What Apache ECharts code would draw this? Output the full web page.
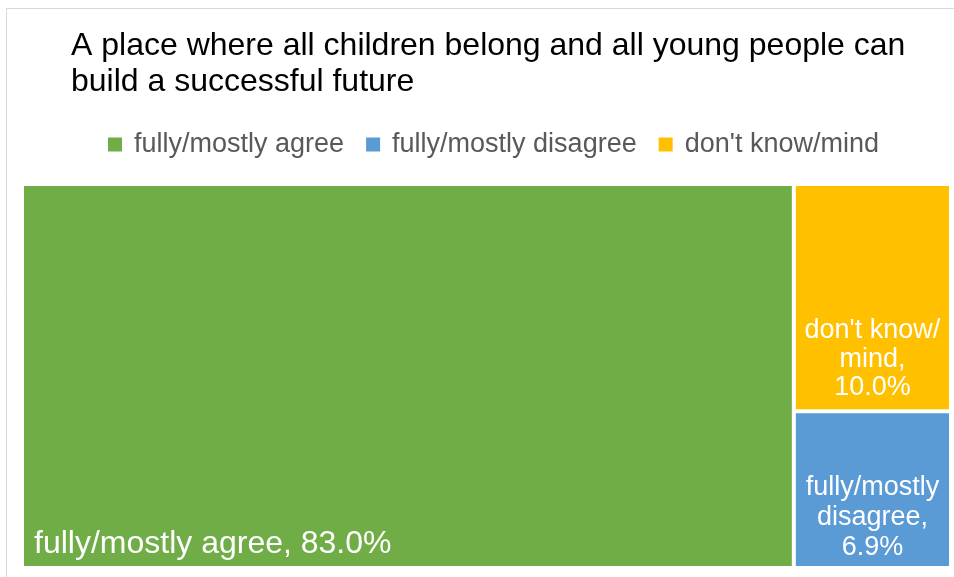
<!doctype html>
<html>
<head>
    <meta charset="UTF-8">
    <title>treemap</title>
    <script src="https://cdn.jsdelivr.net/npm/echarts@6/dist/echarts.min.js"></script>
</head>
<body style="margin: 0; background: #fff">
<div id="main" style="width: 954px; height: 577px;"></div>
<script type="text/javascript">
    // data
    var categories = ['fully/mostly agree', 'fully/mostly disagree', "don't know/mind"];
    var values = [83.0, 6.9, 10.0];
    var labelTexts = ['fully/mostly agree, 83.0%', 'fully/mostly\ndisagree,\n6.9%', "don't know/\nmind,\n10.0%"];
    var colors = ['#70AD47', '#5B9BD5', '#FFC000'];

    var font = '"Liberation Sans", Arial, sans-serif';

    // label placement per block: agree / disagree / don't know
    var labelPos = ['insideBottomLeft', 'insideBottom', 'insideBottom'];
    var labelDist = [0, -2, 2];
    var labelShift = [[5, 0], [0, 0], [0, 0]];
    var labelSize = [32, 27, 27];
    var labelLine = [34, 30, 28.5];

    var treeData = [];
    for (var i = 0; i < categories.length; i++) {
        treeData.push({
            name: categories[i],
            value: values[i],
            itemStyle: {color: colors[i]},
            label: {
                show: true,
                position: labelPos[i],
                distance: labelDist[i],
                offset: labelShift[i],
                align: i === 0 ? 'left' : 'center',
                fontSize: labelSize[i],
                lineHeight: labelLine[i],
                formatter: labelTexts[i]
            }
        });
    }

    // empty bar series, only so the legend has something to point at
    var legendSeries = [];
    for (var j = 0; j < categories.length; j++) {
        legendSeries.push({
            name: categories[j],
            type: 'bar',
            data: [],
            itemStyle: {color: colors[j]}
        });
    }

    var myChart = echarts.init(document.getElementById('main'));
    var option = {
        backgroundColor: '#fff',
        animation: false,
        title: {
            text: 'A place where all children belong and all young people can\nbuild a successful future',
            left: 66,
            top: 23,
            textStyle: {
                color: '#000',
                fontFamily: font,
                fontWeight: 'normal',
                fontSize: 32,
                lineHeight: 36
            }
        },
        legend: {
            data: categories,
            left: 103,
            top: 126,
            icon: 'rect',
            itemWidth: 14,
            itemHeight: 14,
            itemGap: 22,
            textStyle: {
                color: '#595959',
                fontFamily: font,
                fontSize: 27,
                padding: [0, 0, 0, 7]
            }
        },
        grid: {left: -100, top: -100, width: 10, height: 10},
        xAxis: {show: false, type: 'category'},
        yAxis: {show: false, type: 'value'},
        graphic: [
            {type: 'line', shape: {x1: 6.5, y1: 8, x2: 6.5, y2: 577}, style: {stroke: '#d9d9d9', lineWidth: 1}},
            {type: 'line', shape: {x1: 6, y1: 8.5, x2: 954, y2: 8.5}, style: {stroke: '#d9d9d9', lineWidth: 1}}
        ],
        series: legendSeries.concat([
            {
                name: 'treemap',
                type: 'treemap',
                left: 24,
                top: 186,
                right: 5,
                bottom: 11,
                roam: false,
                nodeClick: false,
                breadcrumb: {show: false},
                itemStyle: {borderWidth: 0, gapWidth: 4, borderColor: '#fff'},
                levels: [{itemStyle: {borderWidth: 0, gapWidth: 4}}],
                label: {
                    color: '#fff',
                    fontFamily: font,
                    overflow: 'none'
                },
                data: treeData
            }
        ])
    };
    myChart.setOption(option);
</script>
</body>
</html>
